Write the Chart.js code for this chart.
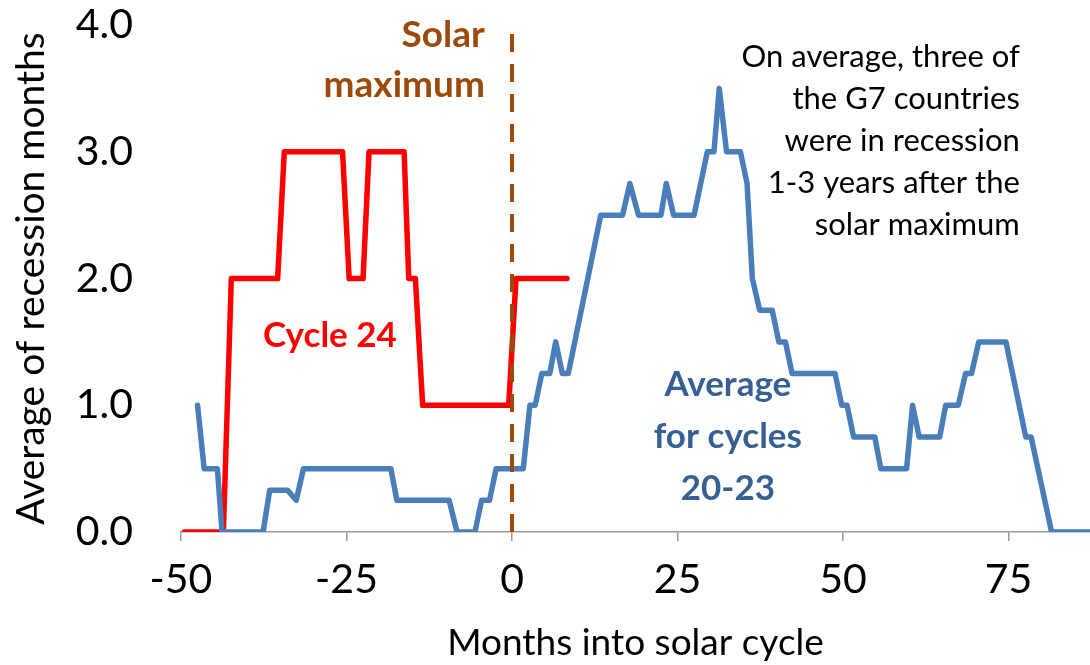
<!DOCTYPE html>
<html>
<head>
<meta charset="utf-8">
<script src="https://cdn.jsdelivr.net/npm/chart.js@4/dist/chart.umd.min.js"></script>
<style>
  html, body { margin: 0; padding: 0; background: #fff; }
  #wrap { width: 1090px; height: 665px; }
</style>
</head>
<body>
<div id="wrap"><canvas id="solarChart"></canvas></div>
<script>
// months into solar cycle / average recession months
const cycle24Months = [-49.5, -43.6, -42.4, -35.4, -34.4, -25.6, -24.6, -22.5, -21.6, -16.3, -15.6, -14.6, -13.5, -0.5, 0.6, 8.3];
const cycle24Values = [0, 0, 2, 2, 3, 3, 2, 2, 3, 3, 2, 2, 1, 1, 2, 2];

const avgMonths = [-47.5, -46.5, -44.5, -43.8, -37.6, -36.6, -33.9, -32.6, -31.5, -18.3, -17.4, -9.5, -8.3, -5.6, -4.6, -3.4, -2.4,
  1.7, 2.7, 3.5, 4.5, 5.7, 6.6, 7.6, 8.5, 13.4, 16.7, 17.8, 19.1, 22.5, 23.3, 24.4, 27.5, 29.5, 30.5, 31.3, 32.4, 34.5, 35.5,
  36.3, 37.4, 39.3, 40.3, 41.3, 42.3, 48.8, 49.8, 50.6, 51.6, 54.8, 55.7, 59.6, 60.5, 61.5, 64.6, 65.5, 67.4, 68.5, 69.4, 70.5,
  74.6, 77.6, 78.4, 81.5, 88];
const avgValues = [1.0, 0.5, 0.5, 0, 0, 0.33, 0.33, 0.25, 0.5, 0.5, 0.25, 0.25, 0, 0, 0.25, 0.25, 0.5,
  0.5, 1.0, 1.0, 1.25, 1.25, 1.5, 1.25, 1.25, 2.5, 2.5, 2.75, 2.5, 2.5, 2.75, 2.5, 2.5, 3.0, 3.0, 3.5, 3.0, 3.0, 2.75,
  2.0, 1.75, 1.75, 1.5, 1.5, 1.25, 1.25, 1.0, 1.0, 0.75, 0.75, 0.5, 0.5, 1.0, 0.75, 0.75, 1.0, 1.0, 1.25, 1.25, 1.5,
  1.5, 0.75, 0.75, 0, 0];

const solarMaxMonths = [0, 0];
const solarMaxValues = [0, 4];

const xTicks = [-50, -25, 0, 25, 50, 75];
const yTicks = [0, 1, 2, 3, 4];

const FONT = "Lato, 'Noto Sans', sans-serif";

function toPoints(xs, ys) {
  return xs.map(function (x, i) { return { x: x, y: ys[i] }; });
}

// text notes placed in data units
const notes = [
  { lines: ["Solar", "maximum"], x: -4.1, y: 3.92, align: "right", color: "#9C4A0A", font: "bold 37px " + FONT, step: 50 },
  { lines: ["Cycle 24"], x: -27.5, y: 1.55, align: "center", color: "#FF0000", font: "bold 35px " + FONT, step: 0 },
  { lines: ["Average", "for cycles", "20-23"], x: 32.6, y: 1.16, align: "center", color: "#376092", font: "bold 35px " + FONT, step: 52 },
  { lines: ["On average, three of", "the G7 countries", "were in recession", "1-3 years after the", "solar maximum"],
    x: 76.7, y: 3.75, align: "right", color: "#000000", font: "31px " + FONT, step: 42 }
];

const notesPlugin = {
  id: "notes",
  afterDatasetsDraw: function (chart) {
    const ctx = chart.ctx;
    const xs = chart.scales.x;
    const ys = chart.scales.y;
    ctx.save();
    notes.forEach(function (n) {
      ctx.font = n.font;
      ctx.fillStyle = n.color;
      ctx.textAlign = n.align;
      ctx.textBaseline = "middle";
      const px = xs.getPixelForValue(n.x);
      const py = ys.getPixelForValue(n.y);
      n.lines.forEach(function (line, i) {
        ctx.fillText(line, px, py + i * n.step);
      });
    });
    ctx.restore();
  }
};

document.addEventListener("DOMContentLoaded", function () {
  const ctx = document.getElementById("solarChart").getContext("2d");

  const data = {
    datasets: [
      {
        label: "Solar maximum",
        data: toPoints(solarMaxMonths, solarMaxValues),
        borderColor: "#9C4A0A",
        borderWidth: 4,
        borderDash: [18, 12],
        pointRadius: 0,
        clip: false
      },
      {
        label: "Average for cycles 20-23",
        data: toPoints(avgMonths, avgValues),
        borderColor: "#4A7EBB",
        borderWidth: 5.5,
        borderCapStyle: "round",
        borderJoinStyle: "round",
        pointRadius: 0
      },
      {
        label: "Cycle 24",
        data: toPoints(cycle24Months, cycle24Values),
        borderColor: "#FF0000",
        borderWidth: 5.5,
        borderCapStyle: "round",
        borderJoinStyle: "round",
        pointRadius: 0
      }
    ]
  };

  const options = {
    responsive: true,
    maintainAspectRatio: false,
    animation: false,
    layout: { padding: { top: 25, right: 0, left: 0, bottom: 0 } },
    plugins: {
      legend: { display: false },
      tooltip: { enabled: false }
    },
    scales: {
      x: {
        type: "linear",
        min: -50,
        max: 87.3,
        afterFit: function (scale) { scale.height = 133; },
        afterBuildTicks: function (scale) {
          scale.ticks = xTicks.map(function (v) { return { value: v }; });
        },
        ticks: {
          color: "#000",
          font: { family: FONT, size: 41 },
          padding: 14,
          maxRotation: 0,
          autoSkip: false
        },
        grid: { display: true, drawOnChartArea: false, drawTicks: true, tickLength: 9, color: "#999", lineWidth: 1.5 },
        border: { display: true, color: "#999", width: 1.5 },
        title: {
          display: true,
          text: "Months into solar cycle",
          color: "#000",
          font: { family: FONT, size: 37 },
          padding: { top: 0, bottom: 0 }
        }
      },
      y: {
        min: 0,
        max: 4,
        afterFit: function (scale) {
          scale.width = 181;
          scale.paddingTop = 0;
          scale.paddingBottom = 0;
        },
        afterBuildTicks: function (scale) {
          scale.ticks = yTicks.map(function (v) { return { value: v }; });
        },
        ticks: {
          color: "#000",
          font: { family: FONT, size: 41 },
          padding: 48,
          callback: function (v) { return Number(v).toFixed(1); }
        },
        grid: { display: false, drawTicks: false },
        border: { display: false },
        title: {
          display: true,
          text: "Average of recession months",
          color: "#000",
          font: { family: FONT, size: 39 },
          padding: { top: 8, bottom: 0 }
        }
      }
    }
  };

  new Chart(ctx, {
    type: "line",
    data: data,
    options: options,
    plugins: [notesPlugin]
  });
});
</script>
</body>
</html>
